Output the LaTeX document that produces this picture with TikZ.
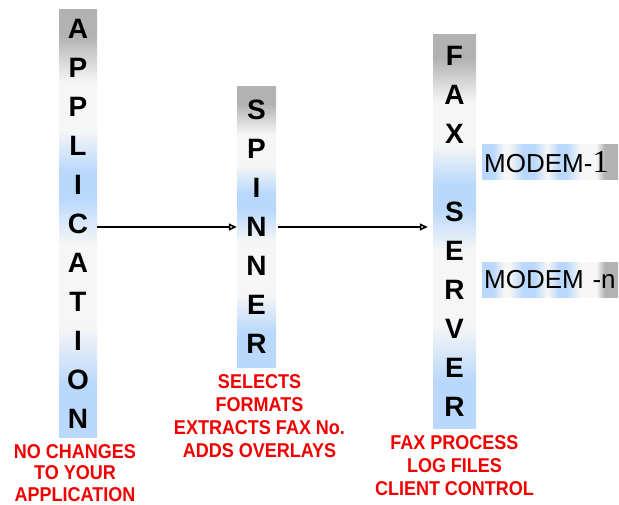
\documentclass[tikz,border=0pt]{standalone}
\usepackage{fontspec}
\setmainfont{Liberation Sans}
\newfontfamily\seriffont{Liberation Serif}
\newfontfamily\notefont[FakeStretch=0.9]{Liberation Sans}
\usetikzlibrary{positioning,arrows.meta}

\definecolor{bargray}{RGB}{178,178,178}
\definecolor{barblue}{RGB}{185,216,251}
\definecolor{barwhite}{RGB}{246,246,246}
\definecolor{notered}{RGB}{240,0,0}

% gray top, then white and blue bands
\pgfdeclareverticalshading{barshade}{100bp}{color(0bp)=(barblue); color(31bp)=(barblue); color(38bp)=(barwhite); color(47.5bp)=(barwhite); color(53bp)=(barblue); color(56bp)=(barblue); color(61bp)=(barwhite); color(66.5bp)=(barwhite); color(72bp)=(bargray); color(100bp)=(bargray)}
\pgfdeclarehorizontalshading{modemshade}{100bp}{color(0bp)=(barblue); color(29bp)=(barblue); color(33bp)=(barwhite); color(35bp)=(barwhite); color(40bp)=(barblue); color(44bp)=(barblue); color(49bp)=(barwhite); color(53bp)=(barblue); color(56bp)=(barblue); color(61bp)=(barwhite); color(67bp)=(barwhite); color(70bp)=(bargray); color(100bp)=(bargray)}

\tikzset{
  bar/.style={shading=barshade, rectangle, inner sep=0pt, align=center,
    font=\fontsize{28pt}{39pt}\selectfont\bfseries},
  modem/.style={shading=modemshade, anchor=west, inner xsep=2pt, inner ysep=0pt,
    text width=132pt, minimum height=35pt, font=\fontsize{26pt}{30pt}\selectfont},
  note/.style={text=notered, inner sep=0pt, align=center,
    font=\notefont\fontsize{20pt}{23pt}\selectfont\bfseries},
  link/.style={line width=1.6pt, -{Triangle[open, length=8pt, width=7pt]}}
}

\begin{document}
\begin{tikzpicture}[x=1pt, y=-1pt]
        \useasboundingbox (0,0) rectangle (619,505);

        % Barras
        \node[bar, minimum width=38pt, minimum height=427pt] (app) at (78,223.5) {A\\P\\P\\L\\I\\C\\A\\T\\I\\O\\N};
        \node[bar, minimum width=39pt, minimum height=280pt] (spin) at (256.5,227) {S\\P\\I\\N\\N\\E\\R};
        \node[bar, minimum width=43pt, minimum height=393pt] (fax) at (454.5,231.5) {F\\A\\X\\~\\S\\E\\R\\V\\E\\R};

        % Modems
        \foreach \y/\name/\txt in {162.5/m1/{MODEM-{\seriffont\fontsize{32pt}{30pt}\selectfont 1}}, 280/mn/{MODEM -n}} {
          \node[modem] (\name) at (482,\y) {\txt};
        }

        % Textos
        \node[note, below=7pt of app, xshift=-3pt, font=\notefont\fontsize{20pt}{21.5pt}\selectfont\bfseries] (appnote) {NO CHANGES\\TO YOUR\\APPLICATION};
        \node[note, below=7pt of spin, xshift=3pt] (spinnote) {SELECTS\\FORMATS\\EXTRACTS FAX No.\\ADDS OVERLAYS};
        \node[note, below=7pt of fax] (faxnote) {FAX PROCESS\\LOG FILES\\CLIENT CONTROL};

        % Setas
        \draw[link] (app.east |- spin.west) -- (spin.west);
        \draw[link, shorten <=2pt, shorten >=5pt] (spin.east) -- (spin.east -| fax.west);
      \end{tikzpicture}
\end{document}
